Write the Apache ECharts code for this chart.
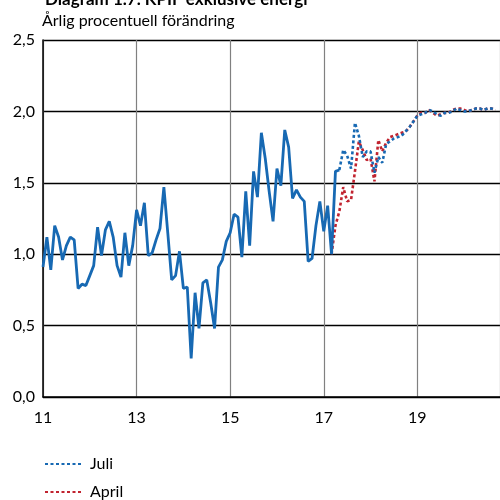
<!DOCTYPE html>
<html>
<head>
<meta charset="utf-8">
<script src="https://cdn.jsdelivr.net/npm/echarts@6/dist/echarts.min.js"></script>
<style>
  html, body { margin: 0; padding: 0; background: #fff; }
  #chart { width: 500px; height: 500px; }
</style>
</head>
<body>
<div id="chart"></div>
<script>
// month index 0 = jan 2011
var actualStart = 0
var actual = [
  0.91, 1.12, 0.89, 1.20, 1.12, 0.96, 1.06, 1.12, 1.10, 0.76, 0.79, 0.78,
  0.85, 0.92, 1.19, 0.99, 1.17, 1.23, 1.12, 0.92, 0.84, 1.15, 0.92, 1.06,
  1.31, 1.20, 1.36, 0.99, 1.01, 1.10, 1.18, 1.47, 1.15, 0.82, 0.85, 1.02,
  0.76, 0.77, 0.27, 0.73, 0.48, 0.80, 0.82, 0.66, 0.48, 0.91, 0.96, 1.09,
  1.15, 1.28, 1.26, 0.98, 1.44, 1.06, 1.58, 1.40, 1.85, 1.67, 1.44, 1.23,
  1.60, 1.48, 1.87, 1.75, 1.39, 1.45, 1.40, 1.37, 0.95, 0.97, 1.20, 1.37,
  1.16, 1.34, 1.00, 1.58, 1.59
]

var aprilStart = 74
var april = [
  1.00, 1.20, 1.30, 1.47, 1.37, 1.38, 1.58, 1.79, 1.73, 1.66, 1.67, 1.51,
  1.80, 1.72, 1.78, 1.82, 1.83, 1.84, 1.85, 1.86, 1.89, 1.93, 1.97,
  1.99, 1.99, 2.01, 1.99, 1.97, 1.98, 1.99, 1.99, 2.01, 2.02, 2.02, 2.01,
  2.00, 2.01, 2.02, 2.02, 2.01, 2.02, 2.02, 2.01
]

var juliStart = 76
var juli = [
  1.59, 1.73, 1.69, 1.60, 1.92, 1.83, 1.68, 1.72, 1.72, 1.57, 1.68, 1.64,
  1.77, 1.79, 1.81, 1.82, 1.83, 1.86, 1.89, 1.93, 1.97,
  1.98, 1.99, 2.01, 2.00, 1.98, 1.97, 1.99, 1.99, 2.00, 2.02, 2.01, 2.00,
  2.00, 2.01, 2.02, 2.02, 2.01, 2.02, 2.02, 2.01
]

var titleText = 'Diagram 1.7. KPIF exklusive energi'
var subTitleText = 'Årlig procentuell förändring'

function pairs(start, arr) {
  return arr.map(function (v, i) { return [start + i, v] })
}

var font = 'Lato, "Liberation Sans", sans-serif'
var blue = '#1769b3'
var red = '#c1232f'

var myChart = echarts.init(document.getElementById('chart'))
var option = {
  animation: false,
  title: [
    {
      text: titleText,
      left: 40,
      top: -14,
      textStyle: { fontFamily: font, fontSize: 17, fontWeight: 'bold', color: '#000' }
    },
    {
      text: subTitleText,
      left: 37,
      top: 8,
      textStyle: { fontFamily: font, fontSize: 16, fontWeight: 'normal', color: '#000' }
    }
  ],
  legend: {
    orient: 'vertical',
    left: 44,
    top: 456,
    padding: 0,
    itemWidth: 36,
    itemHeight: 12,
    itemGap: 12,
    data: ['Juli', 'April'],
    itemStyle: { opacity: 0 },
    textStyle: { fontFamily: font, fontSize: 16, color: '#000', padding: [0, 0, 0, 4] }
  },
  grid: {
    left: 43,
    right: 0,
    top: 40,
    bottom: 103,
    containLabel: false
  },
  xAxis: {
    type: 'value',
    min: 0,
    max: 117.2,
    interval: 24,
    axisLine: { show: true, lineStyle: { color: '#000', width: 1.5 } },
    axisTick: { show: false },
    axisLabel: {
      fontFamily: font,
      fontSize: 16,
      color: '#000',
      margin: 13,
      showMaxLabel: false,
      formatter: function (m) { return String(11 + m / 12) }
    },
    splitLine: { show: true, lineStyle: { color: '#808080', width: 1.2 } }
  },
  yAxis: {
    type: 'value',
    min: 0,
    max: 2.5,
    interval: 0.5,
    axisLine: { show: true, lineStyle: { color: '#000', width: 1.5 } },
    axisTick: { show: false },
    axisLabel: {
      fontFamily: font,
      fontSize: 16,
      color: '#000',
      margin: 8,
      formatter: function (v) { return v.toFixed(1).replace('.', ',') }
    },
    splitLine: { show: true, lineStyle: { color: '#000', width: 1.3 } }
  },
  series: [
    {
      name: 'April',
      type: 'line',
      data: pairs(aprilStart, april),
      symbol: 'none',
      color: red,
      lineStyle: { color: red, width: 2.6, type: [3, 2.5] },
      z: 2
    },
    {
      name: 'Juli',
      type: 'line',
      data: pairs(juliStart, juli),
      symbol: 'none',
      color: blue,
      lineStyle: { color: blue, width: 2.6, type: [3, 2.5] },
      z: 3
    },
    {
      name: 'Utfall',
      type: 'line',
      data: pairs(actualStart, actual),
      symbol: 'none',
      color: blue,
      lineStyle: { color: blue, width: 2.8 },
      z: 4
    }
  ]
}
myChart.setOption(option)
</script>
</body>
</html>
